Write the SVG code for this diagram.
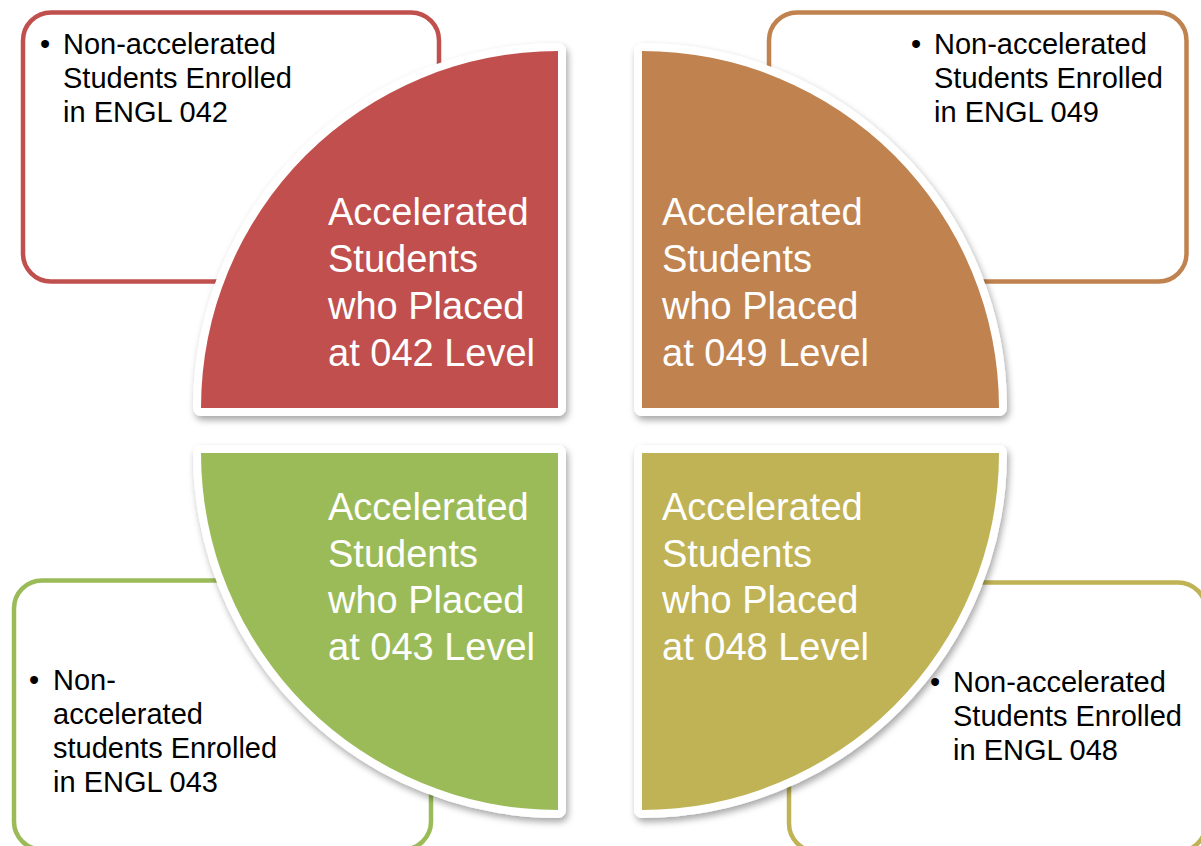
<svg xmlns="http://www.w3.org/2000/svg" width="1201" height="846" viewBox="0 0 1201 846">
<style>
.box{fill:#fff;stroke-width:4.5}
.q{stroke:#fff;stroke-width:16;stroke-linejoin:round;paint-order:stroke;filter:url(#sh)}
.bt{font-family:"Liberation Sans",Arial,sans-serif;font-size:29px;fill:#000}
.qt{font-family:"Liberation Sans",Arial,sans-serif;font-size:38px;fill:#fff}
</style>
<defs>
<filter id="sh" x="-10%" y="-10%" width="125%" height="125%">
<feDropShadow dx="2" dy="4" stdDeviation="3.5" flood-color="#000" flood-opacity="0.35"/>
</filter>
</defs>
<rect width="1201" height="846" fill="#fff"/>
<g id="connectors"></g>

<g id="box-042">
<rect class="box" x="23" y="12.5" width="416" height="269" rx="28" stroke="#C0504D"/>
<text class="bt"><tspan x="40" y="54">•</tspan><tspan x="63" y="54">Non-accelerated</tspan><tspan x="63" y="88">Students Enrolled</tspan><tspan x="63" y="122">in ENGL 042</tspan></text>
</g>
<g id="box-049">
<rect class="box" x="769" y="12.5" width="417.5" height="269" rx="28" stroke="#C0834F"/>
<text class="bt"><tspan x="911" y="54">•</tspan><tspan x="934" y="54">Non-accelerated</tspan><tspan x="934" y="88">Students Enrolled</tspan><tspan x="934" y="122">in ENGL 049</tspan></text>
</g>
<g id="box-043">
<rect class="box" x="14" y="580.5" width="417" height="269" rx="28" stroke="#9BBB59"/>
<text class="bt"><tspan x="29" y="690">•</tspan><tspan x="53" y="690">Non-</tspan><tspan x="53" y="724">accelerated</tspan><tspan x="53" y="758">students Enrolled</tspan><tspan x="53" y="792">in ENGL 043</tspan></text>
</g>
<g id="box-048">
<rect class="box" x="789" y="582.5" width="417" height="269" rx="28" stroke="#BFB356"/>
<text class="bt"><tspan x="930" y="692">•</tspan><tspan x="953" y="692">Non-accelerated</tspan><tspan x="953" y="726">Students Enrolled</tspan><tspan x="953" y="760">in ENGL 048</tspan></text>
</g>

<g id="quarter-042">
<path class="q" fill="#C0504D" d="M558,51 A357,357 0 0 0 201,408 L558,408 Z"/>
<text class="qt"><tspan x="328" y="225">Accelerated</tspan><tspan x="328" y="272">Students</tspan><tspan x="328" y="319">who Placed</tspan><tspan x="328" y="366">at 042 Level</tspan></text>
</g>
<g id="quarter-049">
<path class="q" fill="#C0834F" d="M642,51 A357,357 0 0 1 999,408 L642,408 Z"/>
<text class="qt"><tspan x="662" y="225">Accelerated</tspan><tspan x="662" y="272">Students</tspan><tspan x="662" y="319">who Placed</tspan><tspan x="662" y="366">at 049 Level</tspan></text>
</g>
<g id="quarter-043">
<path class="q" fill="#9BBB59" d="M201,453 A357,357 0 0 0 558,810 L558,453 Z"/>
<text class="qt"><tspan x="328" y="520">Accelerated</tspan><tspan x="328" y="567">Students</tspan><tspan x="328" y="613">who Placed</tspan><tspan x="328" y="660">at 043 Level</tspan></text>
</g>
<g id="quarter-048">
<path class="q" fill="#BFB356" d="M999,453 A357,357 0 0 1 642,810 L642,453 Z"/>
<text class="qt"><tspan x="662" y="520">Accelerated</tspan><tspan x="662" y="567">Students</tspan><tspan x="662" y="613">who Placed</tspan><tspan x="662" y="660">at 048 Level</tspan></text>
</g>
</svg>
